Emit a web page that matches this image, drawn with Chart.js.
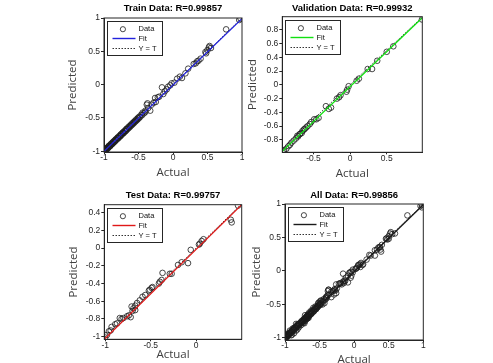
<!DOCTYPE html>
<html>
<head>
<meta charset="utf-8">
<script src="https://cdn.jsdelivr.net/npm/chart.js@4.4.1/dist/chart.umd.min.js"></script>
<style>
    html, body { margin: 0; padding: 0; background: #fff; overflow: hidden; }
    body { width: 493px; height: 363px; position: relative; }
    .panel { position: absolute; }
</style>
</head>
<body>
<div class="panel" style="left:60px;top:0;width:190px;height:181px"><canvas id="c-train"></canvas></div>
<div class="panel" style="left:240px;top:0;width:190px;height:181px"><canvas id="c-val"></canvas></div>
<div class="panel" style="left:60px;top:182px;width:190px;height:181px"><canvas id="c-test"></canvas></div>
<div class="panel" style="left:240px;top:182px;width:190px;height:185px"><canvas id="c-all"></canvas></div>
<script>
// --- data (Target = Actual, Output = Predicted) ---
const trainActual = [
    -1.00, -1.00, -0.99, -0.99, -0.98, -0.98, -0.97, -0.97, -0.96, -0.96,
    -0.95, -0.94, -0.94, -0.93, -0.92, -0.92, -0.91, -0.90, -0.90, -0.89,
    -0.88, -0.87, -0.87, -0.86, -0.85, -0.84, -0.84, -0.83, -0.82, -0.81,
    -0.80, -0.80, -0.79, -0.78, -0.77, -0.76, -0.76, -0.75, -0.74, -0.73,
    -0.72, -0.72, -0.71, -0.70, -0.69, -0.68, -0.68, -0.67, -0.66, -0.65,
    -0.64, -0.63, -0.62, -0.61, -0.60, -0.59, -0.58, -0.57, -0.56, -0.55,
    -0.54, -0.53, -0.52, -0.51, -0.50, -0.49, -0.48, -0.46, -0.45, -0.44,
    -0.42, -0.40, -0.40, -0.38, -0.37, -0.36, -0.33, -0.31, -0.28, -0.26,
    -0.25, -0.22, -0.20, -0.16, -0.14, -0.12, -0.09, -0.07, -0.04, -0.02,
    0.02, 0.06, 0.10, 0.13, 0.18, 0.22, 0.30, 0.33, 0.35, 0.37,
    0.40, 0.47, 0.48, 0.50, 0.52, 0.53, 0.55, 0.77, 0.96, 0.98
];
const trainPredicted = [
    -1.01, -0.99, -1.00, -0.98, -0.99, -0.97, -0.98, -0.96, -0.97, -0.95,
    -0.96, -0.93, -0.95, -0.92, -0.93, -0.91, -0.92, -0.89, -0.91, -0.88,
    -0.89, -0.86, -0.88, -0.85, -0.86, -0.83, -0.85, -0.82, -0.83, -0.80,
    -0.81, -0.79, -0.80, -0.77, -0.78, -0.75, -0.77, -0.74, -0.75, -0.72,
    -0.73, -0.71, -0.72, -0.69, -0.70, -0.67, -0.69, -0.66, -0.67, -0.64,
    -0.65, -0.62, -0.63, -0.60, -0.61, -0.58, -0.59, -0.56, -0.57, -0.54,
    -0.55, -0.52, -0.53, -0.50, -0.51, -0.48, -0.49, -0.45, -0.46, -0.42,
    -0.43, -0.39, -0.41, -0.30, -0.28, -0.35, -0.39, -0.30, -0.27, -0.20,
    -0.26, -0.19, -0.18, -0.04, -0.14, -0.10, -0.07, -0.03, -0.01, 0.02,
    0.03, 0.09, 0.12, 0.10, 0.17, 0.24, 0.31, 0.32, 0.35, 0.36,
    0.39, 0.49, 0.47, 0.52, 0.56, 0.58, 0.55, 0.83, 0.97, 0.99
];

const valActual = [
    0.98, 0.59, 0.50, 0.37, 0.30, 0.24, 0.12, 0.09, -0.02, -0.04,
    -0.05, -0.13, -0.15, -0.18, -0.26, -0.29, -0.33, -0.43, -0.46, -0.49,
    -0.53, -0.55, -0.58, -0.60, -0.62, -0.63, -0.65, -0.66, -0.68, -0.69,
    -0.71, -0.72, -0.74, -0.77, -0.80, -0.82, -0.84, -0.87, -0.90, -0.91
];
const valPredicted = [
    0.95, 0.56, 0.48, 0.35, 0.23, 0.23, 0.09, 0.06, -0.02, -0.07,
    -0.10, -0.15, -0.18, -0.20, -0.33, -0.35, -0.31, -0.48, -0.50, -0.50,
    -0.54, -0.57, -0.60, -0.62, -0.64, -0.65, -0.67, -0.70, -0.71, -0.72,
    -0.75, -0.74, -0.78, -0.81, -0.84, -0.87, -0.89, -0.93, -0.95, -0.96
];

const testActual = [
    0.46, 0.38, 0.39, 0.08, 0.06, 0.04, 0.03, -0.06, -0.09, -0.16,
    -0.20, -0.27, -0.29, -0.37, -0.38, -0.40, -0.41, -0.48, -0.49, -0.51,
    -0.52, -0.56, -0.59, -0.62, -0.65, -0.67, -0.69, -0.70, -0.67, -0.71,
    -0.72, -0.74, -0.76, -0.80, -0.82, -0.84, -0.87, -0.89, -0.93, -0.94,
    -0.96, -0.98, -1.00
];
const testPredicted = [
    0.48, 0.32, 0.29, 0.10, 0.08, 0.05, 0.04, -0.02, -0.17, -0.16,
    -0.19, -0.29, -0.29, -0.28, -0.36, -0.38, -0.40, -0.44, -0.45, -0.47,
    -0.48, -0.53, -0.55, -0.59, -0.62, -0.65, -0.68, -0.71, -0.70, -0.66,
    -0.78, -0.76, -0.77, -0.79, -0.80, -0.79, -0.85, -0.86, -0.89, -0.93,
    -0.94, -0.98, -1.01
];

// all data = train + validation + test
const allActual = [...trainActual, ...valActual, ...testActual];
const allPredicted = [...trainPredicted, ...valPredicted, ...testPredicted];

// fit line end points
const trainFitX = [-1.00, 1.00];
const trainFitY = [-1.00, 0.99];
const valFitX = [-0.925, 0.985];
const valFitY = [-0.965, 0.975];
const testFitX = [-1.01, 0.50];
const testFitY = [-1.03, 0.49];
const allFitX = [-1.00, 1.00];
const allFitY = [-1.01, 0.99];

// tick labels
const ticksFull = [-1, -0.5, 0, 0.5, 1];
const valXTicks = [-0.5, 0, 0.5];
const valYTicks = [-0.8, -0.6, -0.4, -0.2, 0, 0.2, 0.4, 0.6, 0.8];
const testXTicks = [-1, -0.5, 0];
const testYTicks = [-1, -0.8, -0.6, -0.4, -0.2, 0, 0.2, 0.4];

const titles = ['Train Data: R=0.99857', 'Validation Data: R=0.99932', 'Test Data: R=0.99757', 'All Data: R=0.99856'];
const legendLabels = ['Data', 'Fit', 'Y = T'];

const TICK_FONT = { family: '"Liberation Sans", Arial, sans-serif', size: 8.5 };
const LABEL_FONT = { family: '"Open Sans", sans-serif', size: 11.5 };

function toPoints(xs, ys) {
    return xs.map((x, i) => ({ x: x, y: ys[i] }));
}

/**
 * MATLAB style frame round the plot area
 */
const frameBox = {
    id: 'frameBox',
    afterDatasetsDraw(chart) {
        const a = chart.chartArea;
        const ctx = chart.ctx;
        ctx.save();
        ctx.strokeStyle = '#262626';
        ctx.lineWidth = 1;
        ctx.strokeRect(a.left, a.top, a.right - a.left, a.bottom - a.top);
        ctx.restore();
    }
};

/**
 * legend box in the upper-left corner of the plot
 */
const legendBox = {
    id: 'legendBox',
    afterDraw(chart, args, opts) {
        const a = chart.chartArea;
        const ctx = chart.ctx;
        const x = Math.round(a.left + 3) + 0.5;
        const y = Math.round(a.top + 3) + 0.5;
        const rows = [7.7, 17, 27];
        ctx.save();
        ctx.fillStyle = '#fff';
        ctx.fillRect(x, y, 55, 34);
        ctx.strokeStyle = '#262626';
        ctx.lineWidth = 1;
        ctx.strokeRect(x, y, 55, 34);

        // Data marker
        ctx.strokeStyle = '#1a1a1a';
        ctx.lineWidth = 0.8;
        ctx.beginPath();
        ctx.arc(x + 15.4, y + rows[0], 2.6, 0, Math.PI * 2);
        ctx.stroke();

        // Fit line
        ctx.strokeStyle = opts.fitColor;
        ctx.lineWidth = 1.4;
        ctx.beginPath();
        ctx.moveTo(x + 5, y + rows[1]);
        ctx.lineTo(x + 28, y + rows[1]);
        ctx.stroke();

        // Y = T line
        ctx.strokeStyle = '#333';
        ctx.lineWidth = 1;
        ctx.setLineDash([1.5, 1.5]);
        ctx.beginPath();
        ctx.moveTo(x + 5, y + rows[2]);
        ctx.lineTo(x + 28, y + rows[2]);
        ctx.stroke();
        ctx.setLineDash([]);

        ctx.fillStyle = '#111';
        ctx.font = '7.5px "Liberation Sans", Arial, sans-serif';
        ctx.textBaseline = 'middle';
        legendLabels.forEach((t, i) => ctx.fillText(t, x + 31, y + rows[i]));
        ctx.restore();
    }
};

function axisOptions(p, isX) {
    const r = isX ? p.xRange : p.yRange;
    const tickValues = isX ? p.xTicks : p.yTicks;
    return {
        type: 'linear',
        min: r[0],
        max: r[1],
        afterBuildTicks: scale => {
            scale.ticks = tickValues.map(v => ({ value: v }));
        },
        afterFit: scale => {
            if (isX) {
                scale.height = p.xAxisH;
                scale.paddingLeft = 0;
                scale.paddingRight = 0;
            } else {
                scale.width = p.yAxisW;
                scale.paddingTop = 0;
                scale.paddingBottom = 0;
            }
        },
        ticks: {
            font: TICK_FONT,
            color: '#262626',
            padding: isX ? -1 : 1,
            autoSkip: false,
            maxRotation: 0,
            callback: value => String(value)
        },
        grid: {
            drawOnChartArea: false,
            drawTicks: true,
            tickLength: isX ? 2 : 3,
            color: '#262626'
        },
        border: {
            display: true,
            color: '#262626'
        },
        title: {
            display: true,
            text: isX ? 'Actual' : 'Predicted',
            font: LABEL_FONT,
            color: '#404040',
            padding: isX ? { top: 0, bottom: p.xTitlePad } : { top: p.yTitlePad, bottom: 0 }
        }
    };
}

function makePanel(canvasId, p) {
    const ctx = document.getElementById(canvasId).getContext('2d');
    const lo = Math.min(p.xRange[0], p.yRange[0]);
    const hi = Math.max(p.xRange[1], p.yRange[1]);
    return new Chart(ctx, {
        type: 'scatter',
        data: {
            datasets: [
                {
                    label: 'Fit',
                    data: toPoints(p.fitX, p.fitY),
                    showLine: true,
                    borderColor: p.fitColor,
                    borderWidth: 1.3,
                    pointRadius: 0,
                    order: 0
                },
                {
                    label: 'Y = T',
                    data: toPoints([lo, hi], [lo, hi]),
                    showLine: true,
                    borderColor: '#333',
                    borderWidth: 1,
                    borderDash: [1.5, 1.5],
                    pointRadius: 0,
                    order: 1
                },
                {
                    label: 'Data',
                    data: toPoints(p.actual, p.predicted),
                    pointStyle: 'circle',
                    pointRadius: 2.8,
                    pointBorderWidth: 0.8,
                    borderColor: '#1a1a1a',
                    backgroundColor: 'rgba(0,0,0,0)',
                    order: 2
                }
            ]
        },
        options: {
            responsive: true,
            maintainAspectRatio: false,
            animation: false,
            layout: {
                padding: { left: 0, top: 0, bottom: 0, right: p.padRight }
            },
            plugins: {
                legend: { display: false },
                tooltip: { enabled: false },
                title: {
                    display: true,
                    text: p.title,
                    fullSize: false,
                    color: '#000',
                    font: { family: '"Liberation Sans", Arial, sans-serif', size: 9.5, weight: 'bold' },
                    padding: { top: p.titleTop, bottom: p.titleBottom }
                },
                legendBox: { fitColor: p.fitColor }
            },
            scales: {
                x: axisOptions(p, true),
                y: axisOptions(p, false)
            }
        },
        plugins: [frameBox, legendBox]
    });
}

makePanel('c-train', {
    title: titles[0], actual: trainActual, predicted: trainPredicted,
    fitX: trainFitX, fitY: trainFitY, fitColor: '#2222dd',
    xRange: [-1, 1], yRange: [-1.01, 1], xTicks: ticksFull, yTicks: ticksFull,
    yAxisW: 44, xAxisH: 29, padRight: 8, titleTop: 2.3, titleBottom: 4.3,
    yTitlePad: 6.1, xTitlePad: 1.1
});

makePanel('c-val', {
    title: titles[1], actual: valActual, predicted: valPredicted,
    fitX: valFitX, fitY: valFitY, fitColor: '#11e011',
    xRange: [-0.925, 0.985], yRange: [-0.98, 0.99], xTicks: valXTicks, yTicks: valYTicks,
    yAxisW: 42.3, xAxisH: 28.7, padRight: 7.7, titleTop: 2.3, titleBottom: 3.0,
    yTitlePad: 6.1, xTitlePad: 0.8
});

makePanel('c-test', {
    title: titles[2], actual: testActual, predicted: testPredicted,
    fitX: testFitX, fitY: testFitY, fitColor: '#e01818',
    xRange: [-1.01, 0.5], yRange: [-1.03, 0.49], xTicks: testXTicks, yTicks: testYTicks,
    yAxisW: 44.3, xAxisH: 23.7, padRight: 8.3, titleTop: 7.3, titleBottom: 4.0,
    yTitlePad: 6.4, xTitlePad: 1.1
});

makePanel('c-all', {
    title: titles[3], actual: allActual, predicted: allPredicted,
    fitX: allFitX, fitY: allFitY, fitColor: '#1a1a1a',
    xRange: [-1, 1], yRange: [-1.03, 1], xTicks: ticksFull, yTicks: ticksFull,
    yAxisW: 45, xAxisH: 27, padRight: 6.7, titleTop: 8.0, titleBottom: 2.6,
    yTitlePad: 9.8, xTitlePad: 0.6
});
</script>
</body>
</html>
